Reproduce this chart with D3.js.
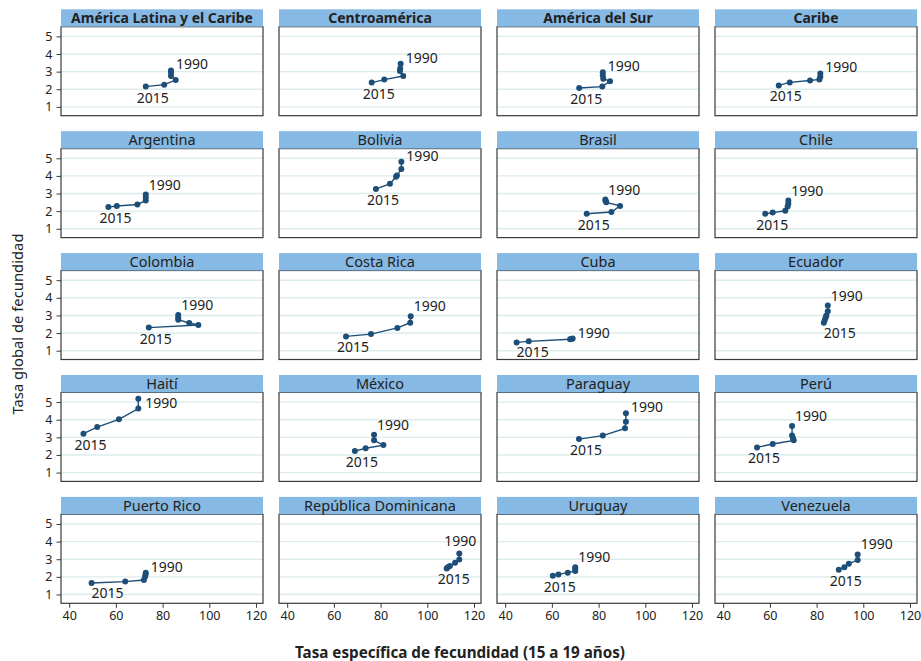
<!DOCTYPE html>
<html><head><meta charset="utf-8">
<script src="https://cdn.jsdelivr.net/npm/d3@7"></script>
<style>body{margin:0;background:#fff;} text{font-family:"Noto Sans",sans-serif;fill:#222;}</style>
</head><body><svg id="c" width="921" height="661"></svg>
<script>
// ---- data ----
const panels = ["América Latina y el Caribe","Centroamérica","América del Sur","Caribe",
  "Argentina","Bolivia","Brasil","Chile",
  "Colombia","Costa Rica","Cuba","Ecuador",
  "Haití","México","Paraguay","Perú",
  "Puerto Rico","República Dominicana","Uruguay","Venezuela"];
const regionPanels = ["América Latina y el Caribe","Centroamérica","América del Sur","Caribe"];
// adolescent fertility rate (15-19), ordered from 1990 to 2015
const adolescentRate = [
  [83.6,83.6,83.6,85.6,80.7,72.8],
  [88.6,88.4,88.3,89.7,81.6,76.2],
  [81.8,81.8,82.0,84.9,81.6,71.7],
  [81.6,81.6,81.2,77.2,68.5,63.8],
  [72.8,72.8,72.8,69.2,60.4,56.8],
  [88.9,88.9,87.0,86.6,84.0,78.0],
  [82.9,83.0,83.3,89.2,85.5,74.9],
  [67.9,67.9,67.6,66.6,61.2,58.0],
  [86.7,86.7,86.7,91.4,95.3,74.1],
  [92.9,92.7,87.2,75.9,65.2],
  [68.9,68.3,67.8,50.1,44.9],
  [84.8,84.8,84.2,83.9,83.5,83.1],
  [69.6,69.6,61.3,52.0,46.1],
  [77.2,77.2,81.2,73.6,69.0],
  [91.7,91.7,91.3,81.8,71.6],
  [69.5,69.5,69.9,70.2,61.2,54.5],
  [72.8,72.7,72.5,72.0,64.0,49.6],
  [113.7,113.7,111.9,109.7,108.8,108.3],
  [70.0,70.0,70.0,66.8,62.8,60.4],
  [97.6,97.6,93.8,91.9,89.5]
];
// total fertility rate, same order
const totalFertility = [
  [3.07,2.94,2.75,2.52,2.26,2.15],
  [3.45,3.18,3.03,2.75,2.55,2.38],
  [2.96,2.79,2.60,2.46,2.15,2.07],
  [2.90,2.71,2.56,2.50,2.39,2.22],
  [2.94,2.78,2.60,2.38,2.29,2.23],
  [4.81,4.39,4.02,3.95,3.55,3.26],
  [2.66,2.58,2.50,2.30,1.95,1.85],
  [2.60,2.42,2.26,2.02,1.92,1.85],
  [3.02,2.87,2.76,2.57,2.46,2.31],
  [2.96,2.59,2.29,1.94,1.81],
  [1.69,1.67,1.65,1.53,1.47],
  [3.56,3.24,3.00,2.88,2.74,2.59],
  [5.19,4.63,4.02,3.58,3.21],
  [3.15,2.83,2.56,2.38,2.22],
  [4.36,3.89,3.51,3.10,2.90],
  [3.64,3.11,2.95,2.83,2.62,2.43],
  [2.24,2.12,2.01,1.82,1.73,1.65],
  [3.33,2.99,2.80,2.61,2.55,2.48],
  [2.55,2.46,2.33,2.24,2.14,2.07],
  [3.27,2.95,2.75,2.55,2.41]
];
const firstYear = "1990", lastYear = "2015";
// marker-label clock positions (as in the original graph)
const firstLabelPos = [2,2,2,2, 1,2,1,1, 1,1,2,1, 3,1,2,1, 2,12,1,1];
const lastLabelPos  = [6,6,6,6, 6,6,6,6, 6,6,5,5, 6,6,6,6, 5,6,6,6];
const xTicks = [40,60,80,100,120];
const yTicks = [1,2,3,4,5];
const xTitle = "Tasa específica de fecundidad (15 a 19 años)";
const yTitle = "Tasa global de fecundidad";

// ---- layout ----
const svg = d3.select("#c");
svg.append("rect").attr("width",921).attr("height",661).attr("fill","#fff");
const nCols = 4, colLeft0 = 61, colPitch = 218, W = 202;
const rowTop0 = 9.3, rowPitch = 121.9, stripH = 17.4, H = 89;
const x = d3.scaleLinear().domain([36.5,123]).range([0,W]);
const y = d3.scaleLinear().domain([0.5,5.55]).range([H,0]);
const lineCol = "#1d4e77", stripCol = "#86b9e3", gridCol = "#dcecec", frameCol = "#3a3a3a";

const pos1 = {12:{a:"middle",dx:1,dy:-12},1:{a:"start",dx:3,dy:-10},2:{a:"start",dx:5,dy:-6},3:{a:"start",dx:7,dy:4.5}};
const pos2 = {6:{a:"middle",dx:7,dy:11},5:{a:"start",dx:0,dy:10}};

panels.forEach((name,i)=>{
  const c = i % nCols, r = Math.floor(i / nCols);
  const left = colLeft0 + c*colPitch, stripTop = rowTop0 + r*rowPitch, top = stripTop + stripH;
  const g = svg.append("g").attr("transform",`translate(${left},${top})`);
  // strip
  svg.append("rect").attr("x",left).attr("y",stripTop).attr("width",W).attr("height",stripH).attr("fill",stripCol);
  svg.append("text").attr("x",left+W/2).attr("y",stripTop+13.6).attr("text-anchor","middle")
    .attr("font-size", regionPanels.includes(name)?14:14.5)
    .attr("font-weight", regionPanels.includes(name)?"bold":"normal").text(name);
  // grid
  g.selectAll("line.grid").data(yTicks).join("line").attr("class","grid")
    .attr("x1",0).attr("x2",W).attr("y1",d=>y(d)).attr("y2",d=>y(d))
    .attr("stroke",gridCol).attr("stroke-width",1.4);
  // frame
  g.append("rect").attr("x",0).attr("y",0).attr("width",W).attr("height",H)
    .attr("fill","none").attr("stroke",frameCol).attr("stroke-width",1.2);
  // y axis on first column
  if (c === 0) {
    const ya = g.append("g").call(d3.axisLeft(y).tickValues(yTicks).tickFormat(d3.format("d")).tickSize(4.5).tickPadding(4));
    ya.select(".domain").remove();
    ya.selectAll("line").attr("stroke",frameCol);
    ya.selectAll("text").attr("font-size",12.5).attr("font-family","Noto Sans").attr("fill","#222");
  }
  // x axis on last row
  if (r === Math.floor((panels.length-1)/nCols)) {
    const xa = g.append("g").attr("transform",`translate(0,${H})`)
      .call(d3.axisBottom(x).tickValues(xTicks).tickFormat(d3.format("d")).tickSize(4.5).tickPadding(3));
    xa.select(".domain").remove();
    xa.selectAll("line").attr("stroke",frameCol);
    xa.selectAll("text").attr("font-size",12.5).attr("font-family","Noto Sans").attr("fill","#222");
  }
  const pts = adolescentRate[i].map((v,k)=>[v, totalFertility[i][k]]);
  g.append("path").datum(pts).attr("fill","none").attr("stroke",lineCol).attr("stroke-width",1.4)
    .attr("d", d3.line().x(d=>x(d[0])).y(d=>y(d[1])));
  g.selectAll("circle").data(pts).join("circle").attr("cx",d=>x(d[0])).attr("cy",d=>y(d[1]))
    .attr("r",3).attr("fill",lineCol);
  // labels
  const p0 = pts[0], pN = pts[pts.length-1];
  const a = pos1[firstLabelPos[i]], b = pos2[lastLabelPos[i]];
  g.append("text").attr("x",x(p0[0])+a.dx).attr("y",y(p0[1])+a.dy+5).attr("text-anchor",a.a)
    .attr("font-size",14).text(firstYear);
  g.append("text").attr("x",x(pN[0])+b.dx).attr("y",y(pN[1])+b.dy+5).attr("text-anchor",b.a)
    .attr("font-size",14).text(lastYear);
});
// axis titles
svg.append("text").attr("transform","translate(22.5,324) rotate(-90)").attr("text-anchor","middle")
  .attr("font-size",14.8).text(yTitle);
svg.append("text").attr("x",460).attr("y",658).attr("text-anchor","middle")
  .attr("font-size",15.2).attr("font-weight","bold").text(xTitle);
</script></body></html>
